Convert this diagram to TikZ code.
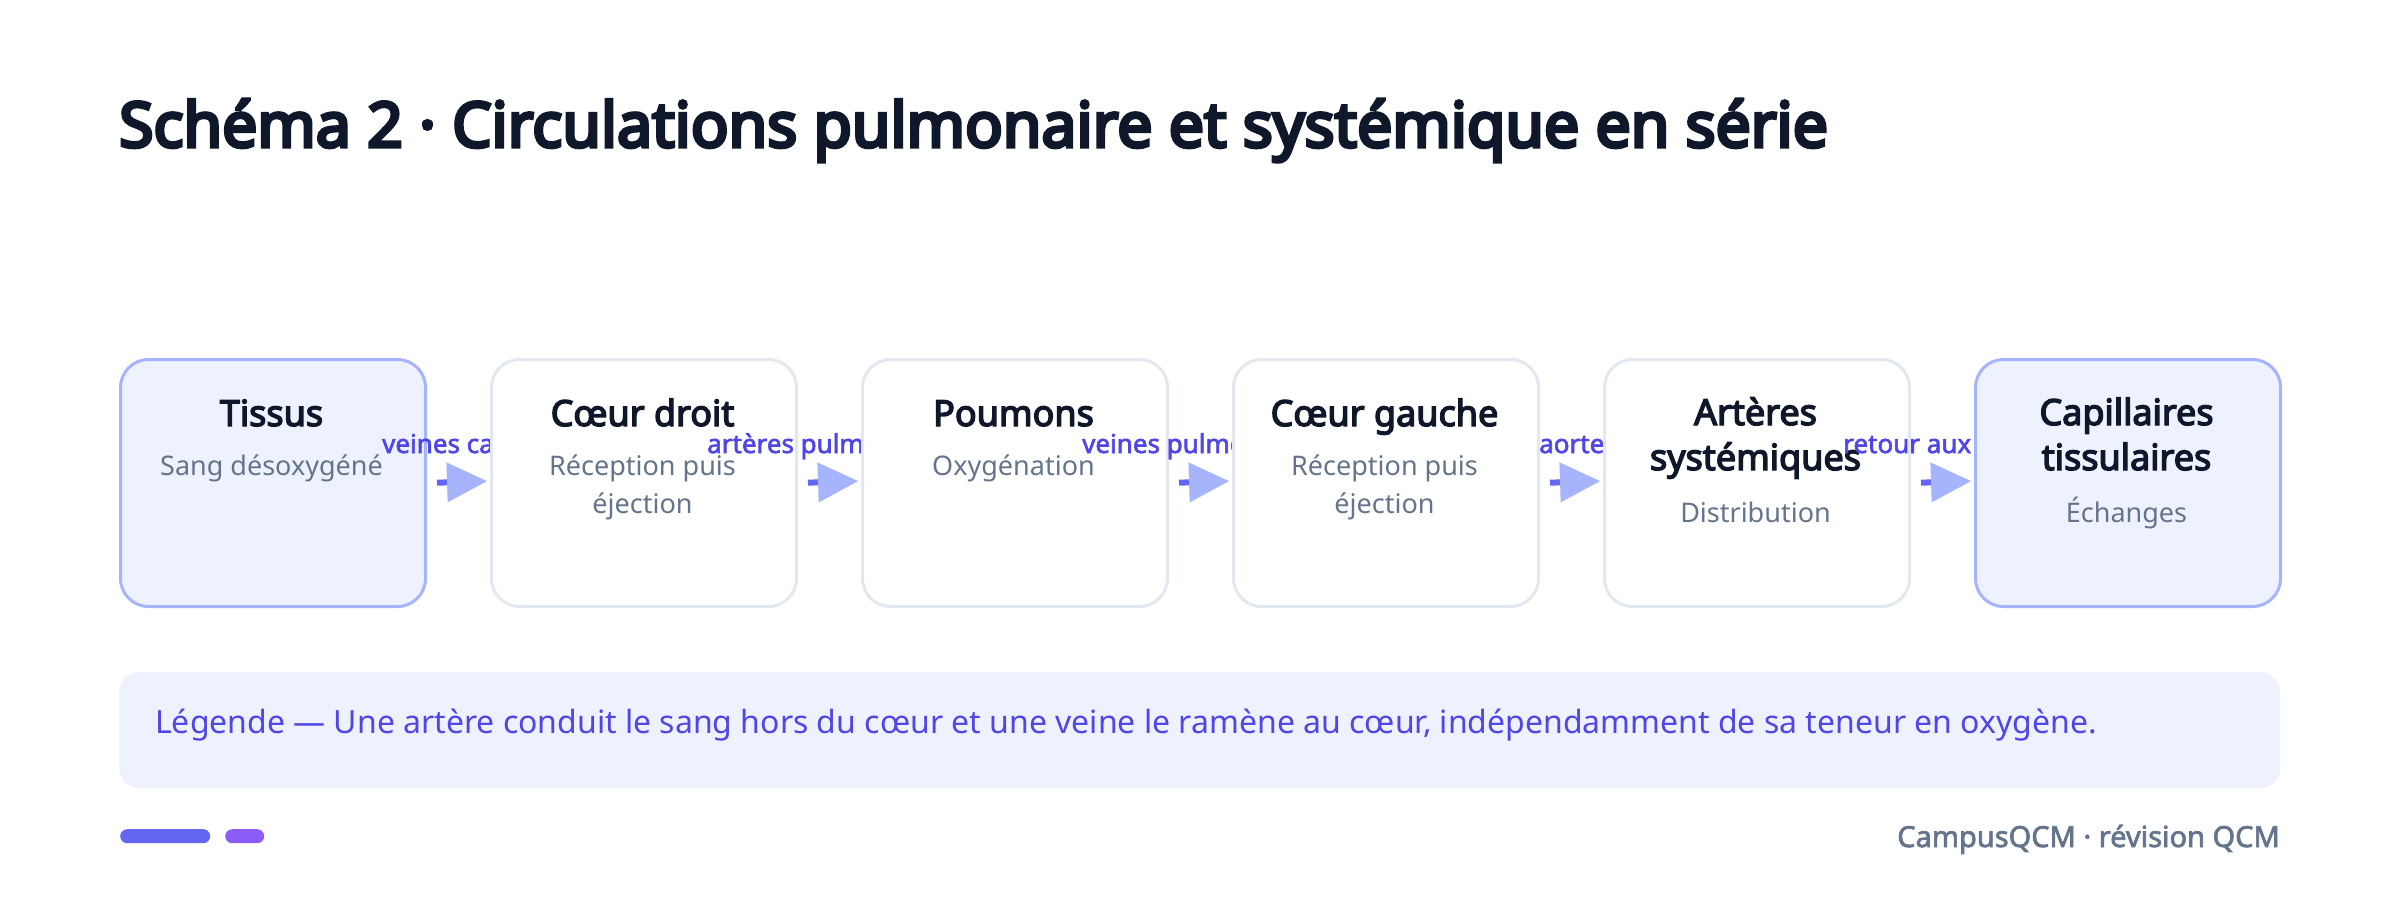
\documentclass[tikz,border=0pt]{standalone}
\usepackage{fontspec}
\setmainfont{Noto Sans}
\newfontfamily\titlefont{Noto Sans}[FakeBold=5.5]
\newfontfamily\boldfont{Noto Sans}[FakeBold=3.8]
\newfontfamily\semifont{Noto Sans}[FakeBold=2.3]
\usetikzlibrary{arrows.meta}
\definecolor{ink}{HTML}{0F172A}
\definecolor{muted}{HTML}{64748B}
\definecolor{boxline}{HTML}{E2E8F0}
\definecolor{hiline}{HTML}{A5B4FC}
\definecolor{hifill}{HTML}{EEF2FF}
\definecolor{lblc}{HTML}{4F46E5}
\definecolor{linec}{HTML}{6366F1}
\definecolor{headc}{HTML}{A5B4FC}
\definecolor{violet}{HTML}{8B5CF6}
\begin{document}
\begin{tikzpicture}[x=1pt,y=-1pt,
  box/.style={draw=boxline, line width=3pt, fill=white, rounded corners=28pt,
    minimum width=305pt, minimum height=247pt, inner sep=0pt, anchor=north west},
  hbox/.style={box, draw=hiline, fill=hifill},
  ttl/.style={font=\boldfont\fontsize{36}{45}\selectfont, text=ink, anchor=base,
    inner sep=0pt, align=center},
  sub/.style={font=\fontsize{27}{38}\selectfont, text=muted, anchor=base,
    inner sep=0pt, align=center},
  lbl/.style={font=\semifont\fontsize{26}{30}\selectfont, text=lblc, anchor=base west,
    inner sep=0pt},
  conn/.style={draw=linec, line width=6pt, shorten <=10pt, shorten >=3pt,
    -{Triangle[length=40pt,width=40pt,line width=0pt,color=headc,fill=headc]}},
  pill/.style={rounded corners=7pt, inner sep=0pt, minimum height=14pt, anchor=north west}
]
\useasboundingbox[fill=white] (0,0) rectangle (2400,897);

\node[font=\titlefont\fontsize{62.5}{70}\selectfont, text=ink, anchor=base west, inner sep=0pt]
  (title) at (119,147) {Schéma 2 · Circulations pulmonaire et systémique en série};

% box 1
\node[hbox] (b1) at (119,358) {};
\node[ttl] (t1) at (271.5,426) {Tissus};
\node[sub] (s1) at (271.5,475) {Sang désoxygéné};
\draw[conn] (b1.east) -- (490,481) coordinate (e1);
\node[lbl] (l1) at (382,453) {veines ca};

% box 2
\node[box] (b2) at (490,358) {};
\node[ttl] (t2) at (642.5,426) {Cœur droit};
\node[sub] (s2) at (642.5,513) {Réception puis\\éjection};
\draw[conn] (b2.east) -- (861,481) coordinate (e2);
\node[lbl] (l2) at (707,453) {artères pulm};

% box 3
\node[box] (b3) at (861,358) {};
\node[ttl] (t3) at (1013.5,426) {Poumons};
\node[sub] (s3) at (1013.5,475) {Oxygénation};
\draw[conn] (b3.east) -- (1232,481) coordinate (e3);
\node[lbl] (l3) at (1082,453) {veines pulmo};

% box 4
\node[box] (b4) at (1232,358) {};
\node[ttl] (t4) at (1384.5,426) {Cœur gauche};
\node[sub] (s4) at (1384.5,513) {Réception puis\\éjection};
\draw[conn] (b4.east) -- (1603,481) coordinate (e4);
\node[lbl] (l4) at (1539,453) {aorte};

% box 5
\node[box] (b5) at (1603,358) {};
\node[ttl] (t5) at (1755.5,470) {Artères\\systémiques};
\node[sub] (s5) at (1755.5,522) {Distribution};
\draw[conn] (b5.east) -- (1974,481) coordinate (e5);
\node[lbl] (l5) at (1843,453) {retour aux};

% box 6
\node[hbox] (b6) at (1974,358) {};
\node[ttl] (t6) at (2126.5,470) {Capillaires\\tissulaires};
\node[sub] (s6) at (2126.5,522) {Échanges};

% legend
\node[fill=hifill, rounded corners=20pt, minimum width=2161pt, minimum height=116pt,
  inner sep=0pt, anchor=north west] (leg) at (119,672) {};
\node[font=\fontsize{32}{36}\selectfont, text=lblc, anchor=base west, inner sep=0pt]
  (legt) at (155,733) {Légende — Une artère conduit le sang hors du cœur et une veine le ramène au cœur, indépendamment de sa teneur en oxygène.};

% footer
\node[pill, fill=linec, minimum width=90pt] (p1) at (120,829) {};
\node[pill, fill=violet, minimum width=39pt] (p2) at (225,829) {};
\node[font=\semifont\fontsize{29}{32}\selectfont, text=muted, anchor=base east, inner sep=0pt]
  (foot) at (2280,847) {CampusQCM · révision QCM};
\end{tikzpicture}
\end{document}
